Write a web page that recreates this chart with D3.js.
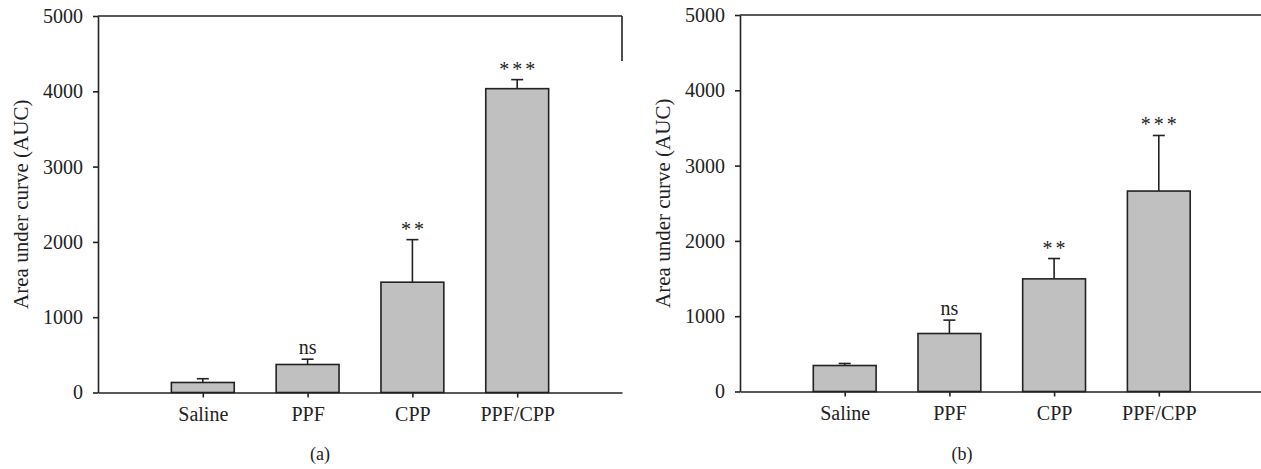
<!DOCTYPE html>
<html><head><meta charset="utf-8">
<script src="https://cdn.jsdelivr.net/npm/d3@7"></script>
<style>
body{margin:0;background:#fff;}
svg text{font-family:"Liberation Serif","DejaVu Serif",serif;fill:#222;}
</style></head>
<body><svg id="c" width="1261" height="469"></svg>
<script>
const categories = ["Saline","PPF","CPP","PPF/CPP"];
const valuesA = [133, 372, 1465, 4035];
const errorsA = [50, 70, 565, 120];
const signifA = ["", "ns", "**", "***"];
const valuesB = [345, 770, 1496, 2662];
const errorsB = [27, 178, 270, 738];
const signifB = ["", "ns", "**", "***"];
const yTicks = [0,1000,2000,3000,4000,5000];
const panelLabels = ["(a)","(b)"];

const svg = d3.select("#c");
const ink = "#222";
const FONT = '"Liberation Serif","DejaVu Serif",serif';

function panel(cfg){
  const {x0, y0, yTop, step, values, errors, signif, label, clipRight} = cfg;
  const g = svg.append("g");
  const x = d3.scaleLinear().domain([0,5]).range([x0, x0+5*step]);
  const y = d3.scaleLinear().domain([0,5000]).range([y0, yTop]);
  const bw = step*0.6;
  categories.forEach((c,i)=>{
    const cx = x(i+1);
    g.append("rect").attr("x",cx-bw/2).attr("y",y(values[i]))
      .attr("width",bw).attr("height",y(0)-y(values[i]))
      .attr("fill","#c0c0c0").attr("stroke",ink).attr("stroke-width",1.6);
    const ye = y(values[i]+errors[i]);
    g.append("line").attr("x1",cx).attr("x2",cx).attr("y1",y(values[i])).attr("y2",ye)
      .attr("stroke",ink).attr("stroke-width",1.6);
    g.append("line").attr("x1",cx-6).attr("x2",cx+6).attr("y1",ye).attr("y2",ye)
      .attr("stroke",ink).attr("stroke-width",1.6);
    if(signif[i]){
      const star = signif[i].includes("*");
      g.append("text").attr("x",cx+(star?1.5:0)).attr("y",ye-(star?4:5))
        .attr("text-anchor","middle")
        .attr("font-size", 20)
        .attr("letter-spacing", star?"3px":"0px")
        .text(signif[i]);
    }
  });
  const ya = d3.axisLeft(y).tickValues(yTicks).tickSize(5).tickSizeOuter(0).tickPadding(10).tickFormat(d3.format("d"));
  const yg = g.append("g").attr("transform",`translate(${x0},0)`).call(ya);
  yg.select(".domain").attr("stroke",ink).attr("stroke-width",1.6);
  yg.selectAll(".tick line").attr("stroke",ink).attr("stroke-width",1.6);
  yg.selectAll(".tick text").attr("font-size",20).attr("fill",ink).style("font-family",FONT);
  const xa = d3.axisBottom(x).tickValues([1,2,3,4]).tickSize(5).tickSizeOuter(0).tickPadding(9)
    .tickFormat((d)=>categories[d-1]);
  const xg = g.append("g").attr("transform",`translate(0,${y0})`).call(xa);
  xg.select(".domain").attr("stroke",ink).attr("stroke-width",1.6);
  xg.selectAll(".tick line").attr("stroke",ink).attr("stroke-width",1.6);
  xg.selectAll(".tick text").attr("font-size",20).attr("fill",ink).style("font-family",FONT);
  g.append("line").attr("x1",x0).attr("x2",x0+5*step).attr("y1",y(5000)).attr("y2",y(5000))
    .attr("stroke",ink).attr("stroke-width",1.6);
  if(!clipRight){
    g.append("line").attr("x1",x0+5*step).attr("x2",x0+5*step).attr("y1",y(5000)).attr("y2",y(5000)+45)
      .attr("stroke",ink).attr("stroke-width",1.6);
  }
  g.append("text").attr("transform",`translate(${x0-70},${(y0+yTop)/2}) rotate(-90)`)
    .attr("text-anchor","middle").attr("font-size",21).text("Area under curve (AUC)");
  g.append("text").attr("x",x0+222).attr("y",460).attr("text-anchor","middle")
    .attr("font-size",18).text(label);
}

panel({x0:98, y0:392.5, yTop:16, step:104.8, values:valuesA, errors:errorsA, signif:signifA, label:panelLabels[0], clipRight:false});
panel({x0:740, y0:391.5, yTop:15, step:104.7, values:valuesB, errors:errorsB, signif:signifB, label:panelLabels[1], clipRight:true});
</script></body></html>
